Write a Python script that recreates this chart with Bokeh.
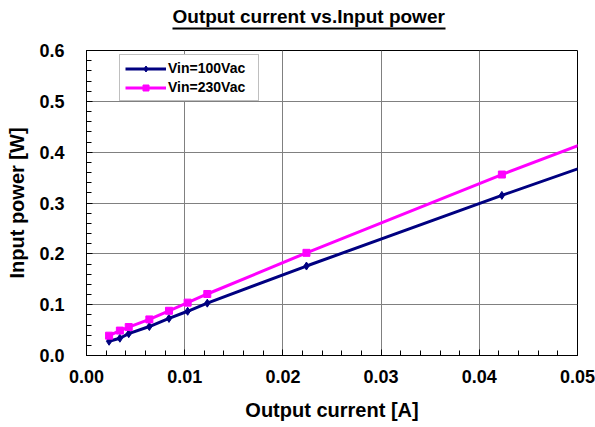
from bokeh.plotting import figure
from bokeh.models import (FixedTicker, PrintfTickFormatter, Range1d,
                          Legend, LegendItem, ColorBar, LinearColorMapper)
from bokeh.embed import file_html
from bokeh.resources import INLINE

# ---- data ----
output_current = [0.0023, 0.0034, 0.0043, 0.0064, 0.0084, 0.0103, 0.0123, 0.0224, 0.0423, 0.0525]
power_100vac = [0.028, 0.034, 0.043, 0.057, 0.073, 0.087, 0.103, 0.176, 0.315, 0.384]
power_230vac = [0.039, 0.049, 0.056, 0.071, 0.088, 0.104, 0.121, 0.202, 0.356, 0.431]
series_names = ["Vin=100Vac", "Vin=230Vac"]
x_ticks = [0.0, 0.01, 0.02, 0.03, 0.04, 0.05]
y_ticks = [0.0, 0.1, 0.2, 0.3, 0.4, 0.5, 0.6]
x_minor = [i * 0.002 for i in range(26)]
y_minor = [i * 0.02 for i in range(31)]
title_text = "Output current vs.Input power"
x_label = "Output current [A]"
y_label = "Input power [W]"

FONT = "Liberation Sans"
NAVY = "#000080"
MAGENTA = "#FF00FF"

p = figure(width=595, height=427, output_backend="svg", toolbar_location=None,
           x_range=Range1d(0, 0.05), y_range=Range1d(0, 0.6),
           min_border_left=86, min_border_right=18, min_border_top=50,
           min_border_bottom=72)

p.outline_line_color = "black"
p.outline_line_width = 1
p.background_fill_color = "white"
p.border_fill_color = "white"

# axes
p.xaxis.ticker = FixedTicker(ticks=x_ticks, minor_ticks=x_minor)
p.yaxis.ticker = FixedTicker(ticks=y_ticks, minor_ticks=y_minor)
p.xaxis.formatter = PrintfTickFormatter(format="%.2f")
p.yaxis.formatter = PrintfTickFormatter(format="%.1f")
for ax in (p.xaxis, p.yaxis):
    ax.axis_line_color = "black"
    ax.axis_line_width = 1
    ax.major_tick_in = 6
    ax.major_tick_out = 0
    ax.minor_tick_in = 5
    ax.minor_tick_out = 0
    ax.major_tick_line_color = "black"
    ax.minor_tick_line_color = "black"
    ax.major_label_text_font = FONT
    ax.major_label_text_font_style = "bold"
    ax.major_label_text_font_size = "18px"
    ax.major_label_text_color = "black"
    ax.axis_label_text_font = FONT
    ax.axis_label_text_font_style = "bold"
    ax.axis_label_text_font_size = "20px"
    ax.axis_label_text_color = "black"
p.xaxis.axis_label = x_label
p.yaxis.axis_label = y_label
p.xaxis.major_label_standoff = 14
p.xaxis.axis_label_standoff = 13
p.yaxis.major_label_standoff = 22
p.yaxis.axis_label_standoff = 8

p.xgrid.grid_line_color = "#808080"
p.ygrid.grid_line_color = "#808080"
p.xgrid.grid_line_width = 1
p.ygrid.grid_line_width = 1

# series
l1 = p.line(output_current, power_100vac, line_color=NAVY, line_width=3)
m1 = p.scatter(output_current, power_100vac, marker="diamond", size=8,
               fill_color=NAVY, line_color=NAVY)
l2 = p.line(output_current, power_230vac, line_color=MAGENTA, line_width=3)
m2 = p.scatter(output_current, power_230vac, marker="square", size=7,
               fill_color=MAGENTA, line_color=MAGENTA)

legend = Legend(items=[LegendItem(label=series_names[0], renderers=[l1, m1]),
                       LegendItem(label=series_names[1], renderers=[l2, m2])],
                location=(33, 254))
legend.label_text_font = FONT
legend.label_text_font_style = "bold"
legend.label_text_font_size = "14px"
legend.label_text_color = "black"
legend.glyph_width = 41
legend.glyph_height = 15
legend.label_height = 15
legend.label_width = 85
legend.label_standoff = 2
legend.spacing = 3
legend.padding = 5
legend.margin = 0
legend.border_line_color = "#808080"
legend.border_line_width = 1
legend.background_fill_color = "white"
legend.background_fill_alpha = 1
p.add_layout(legend, "center")

# underlined title: a one-colour bar (the underline) carrying the title text
title_bar = ColorBar(color_mapper=LinearColorMapper(palette=["black"], low=0, high=1),
                     orientation="horizontal", location=(86, 21),
                     width=273, height=2, padding=0, margin=0,
                     title=title_text, title_standoff=2,
                     title_text_font=FONT, title_text_font_size="19px",
                     title_text_font_style="bold", title_text_color="black",
                     ticker=FixedTicker(ticks=[]), major_label_text_font_size="0px",
                     major_tick_line_color=None, minor_tick_line_color=None,
                     bar_line_color=None, border_line_color=None,
                     background_fill_alpha=0, label_standoff=0)
p.add_layout(title_bar, "above")

open("out.html", "w").write(file_html(p, INLINE))
